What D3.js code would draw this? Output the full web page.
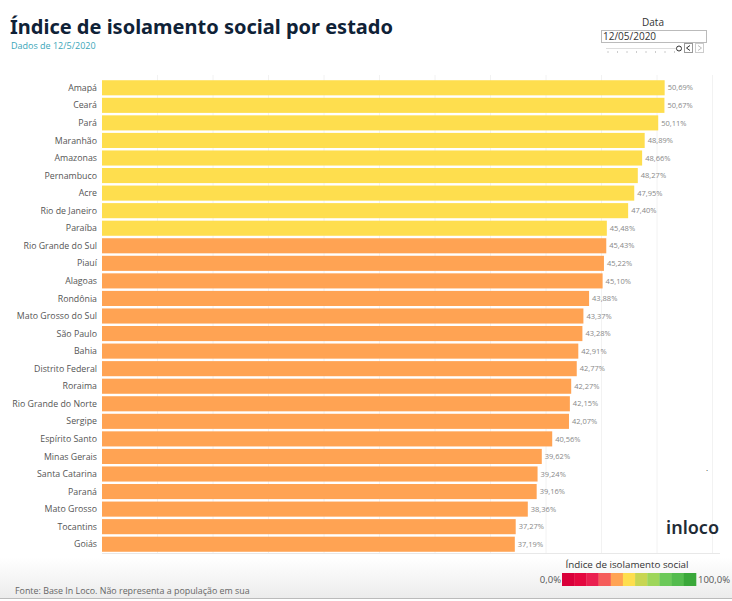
<!DOCTYPE html>
<html lang="pt">
<head>
<meta charset="UTF-8">
<title>Índice de isolamento social por estado</title>
<script src="https://d3js.org/d3.v7.min.js"></script>
<style>
  body { margin: 0; background: #fff; font-family: "Open Sans", "Noto Sans", sans-serif; }
  svg { display: block; }
</style>
</head>
<body>
<svg></svg>
<script>
  // dados de 12/5/2020
  const estados = ['Amapá', 'Ceará', 'Pará', 'Maranhão', 'Amazonas', 'Pernambuco', 'Acre',
    'Rio de Janeiro', 'Paraíba', 'Rio Grande do Sul', 'Piauí', 'Alagoas', 'Rondônia',
    'Mato Grosso do Sul', 'São Paulo', 'Bahia', 'Distrito Federal', 'Roraima',
    'Rio Grande do Norte', 'Sergipe', 'Espírito Santo', 'Minas Gerais', 'Santa Catarina',
    'Paraná', 'Mato Grosso', 'Tocantins', 'Goiás']
  const indice = [50.69, 50.67, 50.11, 48.89, 48.66, 48.27, 47.95, 47.40, 45.48, 45.43,
    45.22, 45.10, 43.88, 43.37, 43.28, 42.91, 42.77, 42.27, 42.15, 42.07, 40.56, 39.62,
    39.24, 39.16, 38.36, 37.27, 37.19]

  // legenda: 11 faixas de 0 a 100%
  const cores = ['#d9003a', '#e4083f', '#ea2050', '#f55c5a', '#ffa353', '#fede4e',
    '#c8d652', '#9ed65a', '#6cc959', '#54bc4e', '#3aa83a']
  const gridTicks = [5, 10, 15, 20, 25, 30, 35, 40, 45, 50, 55]

  const width = 732, height = 601
  const svg = d3.select('svg').attr('width', width).attr('height', height)

  const defs = svg.append('defs')
  const grad = defs.append('linearGradient').attr('id', 'rodape').attr('x1', 0).attr('x2', 0).attr('y1', 0).attr('y2', 1)
  grad.append('stop').attr('offset', '0%').attr('stop-color', '#fff')
  grad.append('stop').attr('offset', '100%').attr('stop-color', '#ececec')

  // título
  svg.append('text')
    .attr('x', 10).attr('y', 34)
    .style('font-family', '"Noto Sans", sans-serif')
    .style('font-weight', 700).style('font-size', '20px')
    .attr('fill', '#0f2237')
    .text('Índice de isolamento social por estado')
  svg.append('text')
    .attr('x', 11).attr('y', 49)
    .style('font-size', '9px').attr('fill', '#3aa6b9')
    .text('Dados de 12/5/2020')

  // escalas
  const x = d3.scaleLinear().domain([0, 55]).range([102, 712.5])
  const y = d3.scaleBand().domain(estados).range([79, 553]).paddingInner(0.14).paddingOuter(0.07)
  const cor = d3.scaleQuantize().domain([0, 100]).range(cores)

  // linhas de grade
  svg.append('g').selectAll('line').data(gridTicks).join('line')
    .attr('x1', d => x(d)).attr('x2', d => x(d))
    .attr('y1', 75).attr('y2', 553)
    .attr('stroke', '#f2f2f2').attr('stroke-width', 1)
  svg.append('line')
    .attr('x1', 102).attr('x2', 720).attr('y1', 553.5).attr('y2', 553.5)
    .attr('stroke', '#e8e8e8')

  const linhas = estados.map((e, i) => ({ estado: e, valor: indice[i] }))

  // barras
  svg.append('g').selectAll('rect').data(linhas).join('rect')
    .attr('x', x(0)).attr('y', d => y(d.estado))
    .attr('width', d => x(d.valor) - x(0)).attr('height', y.bandwidth())
    .attr('fill', d => cor(d.valor))

  // nomes dos estados
  svg.append('g').selectAll('text').data(linhas).join('text')
    .attr('x', 97).attr('y', d => y(d.estado) + y.bandwidth() / 2)
    .attr('dy', '0.35em').attr('text-anchor', 'end')
    .style('font-size', '8.8px').attr('fill', '#555')
    .text(d => d.estado)

  // valores
  svg.append('g').selectAll('text').data(linhas).join('text')
    .attr('x', d => x(d.valor) + 3).attr('y', d => y(d.estado) + y.bandwidth() / 2)
    .attr('dy', '0.35em')
    .style('font-size', '7.5px').attr('fill', '#888')
    .text(d => d.valor.toFixed(2).replace('.', ',') + '%')

  // filtro de data
  svg.append('text').attr('x', 653).attr('y', 26).attr('text-anchor', 'middle')
    .style('font-size', '10px').attr('fill', '#333').text('Data')
  svg.append('rect').attr('x', 601.5).attr('y', 30.5).attr('width', 105).attr('height', 12)
    .attr('fill', '#fff').attr('stroke', '#bbb')
  svg.append('text').attr('x', 603).attr('y', 40)
    .style('font-size', '10px').attr('fill', '#333').text('12/05/2020')
  svg.append('line').attr('x1', 606).attr('x2', 676).attr('y1', 48.5).attr('y2', 48.5)
    .attr('stroke', '#ddd')
  svg.append('g').selectAll('line').data(d3.range(8)).join('line')
    .attr('x1', d => 608 + d * 9.5).attr('x2', d => 608 + d * 9.5)
    .attr('y1', 51).attr('y2', 53).attr('stroke', '#ccc')
  svg.append('circle').attr('cx', 679).attr('cy', 48.5).attr('r', 2.5)
    .attr('fill', '#fff').attr('stroke', '#333')
  svg.append('rect').attr('x', 684.5).attr('y', 43.5).attr('width', 8).attr('height', 9)
    .attr('fill', '#fff').attr('stroke', '#999')
  svg.append('path').attr('d', 'M690,45.5 L686.5,48 L690,50.5').attr('fill', 'none').attr('stroke', '#333')
  svg.append('rect').attr('x', 695.5).attr('y', 43.5).attr('width', 8).attr('height', 9)
    .attr('fill', '#fff').attr('stroke', '#ccc')
  svg.append('path').attr('d', 'M698,45.5 L701.5,48 L698,50.5').attr('fill', 'none').attr('stroke', '#bbb')

  svg.append('text').attr('x', 706).attr('y', 471).style('font-size', '8px').attr('fill', '#333').text('.')

  // logo
  svg.append('text').attr('x', 719).attr('y', 534).attr('text-anchor', 'end')
    .style('font-family', '"Noto Sans", sans-serif').style('font-weight', 600)
    .style('font-size', '18px').attr('fill', '#1f2b36').text('inloco')

  // rodapé
  svg.append('rect').attr('x', 0).attr('y', 558).attr('width', width).attr('height', 40)
    .attr('fill', 'url(#rodape)')
  svg.append('line').attr('x1', 0).attr('x2', width).attr('y1', 598.5).attr('y2', 598.5)
    .attr('stroke', '#bbb')
  svg.append('text').attr('x', 15).attr('y', 594)
    .style('font-size', '8.9px').attr('fill', '#666')
    .text('Fonte: Base In Loco. Não representa a população em sua')

  // legenda de cores
  svg.append('text').attr('x', 627).attr('y', 568).attr('text-anchor', 'middle')
    .style('font-size', '9.8px').attr('fill', '#333').text('Índice de isolamento social')
  const lx = d3.scaleBand().domain(d3.range(cores.length)).range([562, 696])
  svg.append('g').selectAll('rect').data(cores).join('rect')
    .attr('x', (d, i) => lx(i)).attr('y', 573).attr('width', lx.bandwidth() + 0.3).attr('height', 13)
    .attr('fill', d => d)
  svg.append('text').attr('x', 561).attr('y', 583).attr('text-anchor', 'end')
    .style('font-size', '9.5px').attr('fill', '#555').text('0,0%')
  svg.append('text').attr('x', 698).attr('y', 583)
    .style('font-size', '9.5px').attr('fill', '#555').text('100,0%')
</script>
</body>
</html>
